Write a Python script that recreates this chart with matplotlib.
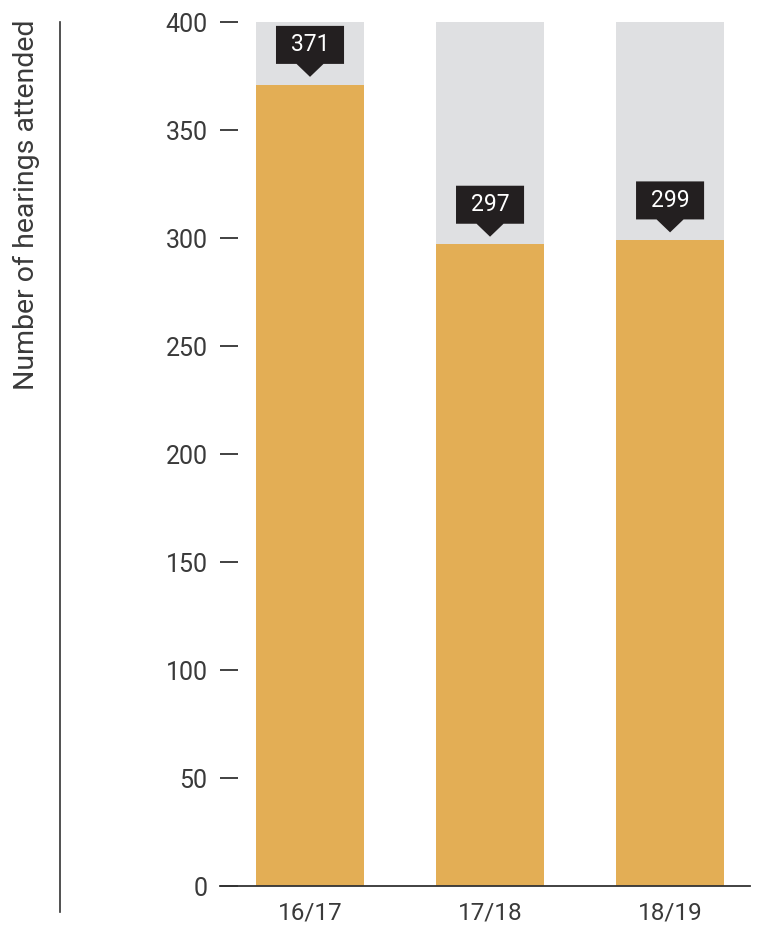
import matplotlib
matplotlib.use("Agg")
import matplotlib.pyplot as plt
from matplotlib.patches import Polygon
from matplotlib.lines import Line2D

plt.rcParams["font.family"] = ["Roboto", "DejaVu Sans"]
plt.rcParams["font.weight"] = "normal"

years   = ["16/17", "17/18", "18/19"]
heard   = [371, 297, 299]
y_max   = 400
y_ticks = [0, 50, 100, 150, 200, 250, 300, 350, 400]

ORANGE = "#E3AE55"
GREY   = "#DFE0E2"
DARK   = "#231F20"
TEXT   = "#3A3A3A"

fig = plt.figure(figsize=(7.63, 9.25), dpi=100)
ax = fig.add_axes([220 / 763, 39 / 925, 530 / 763, 864 / 925])

x = list(range(len(years)))
ax.bar(x, [y_max] * len(x), width=0.6, color=GREY, zorder=1)
ax.bar(x, heard, width=0.6, color=ORANGE, zorder=2)

# value callouts: dark box with a downward pointer
bw, bh = 0.378, 17.6     # box width / height in data units
th, tw = 6.0, 0.075      # pointer height / half base
gap = 3.6
for xi, v in zip(x, heard):
    tip = v + gap
    b0 = tip + th
    shape = [(xi, tip), (xi - tw, b0), (xi - bw / 2, b0), (xi - bw / 2, b0 + bh),
             (xi + bw / 2, b0 + bh), (xi + bw / 2, b0), (xi + tw, b0)]
    ax.add_patch(Polygon(shape, closed=True, fc=DARK, ec="none", zorder=4))
    ax.text(xi, b0 + bh / 2, str(v), color="white", ha="center", va="center",
            fontsize=16.5, zorder=5)

ax.set_xlim(-0.5, 2.444)
ax.set_ylim(0, y_max)
ax.set_yticks(y_ticks)
ax.set_xticks(x)
ax.set_xticklabels(years)
for s in ["top", "right", "left"]:
    ax.spines[s].set_visible(False)
ax.spines["bottom"].set_color("#333333")
ax.spines["bottom"].set_linewidth(1.3)
ax.spines["bottom"].set_zorder(6)
ax.tick_params(axis="y", direction="in", length=13, width=1.3, color="#333333",
               pad=9, labelsize=18, labelcolor=TEXT)
ax.tick_params(axis="x", length=0, pad=11, labelsize=17.5, labelcolor=TEXT)

fig.add_artist(Line2D([60 / 763, 60 / 763], [1 - 22 / 925, 1 - 912 / 925],
                      color="#333333", lw=1.2, transform=fig.transFigure))
fig.text(26 / 763, 1 - 205 / 925, "Number of hearings attended", rotation=90,
         ha="center", va="center", fontsize=20.5, color=TEXT)

fig.savefig("out.png", dpi=100)
